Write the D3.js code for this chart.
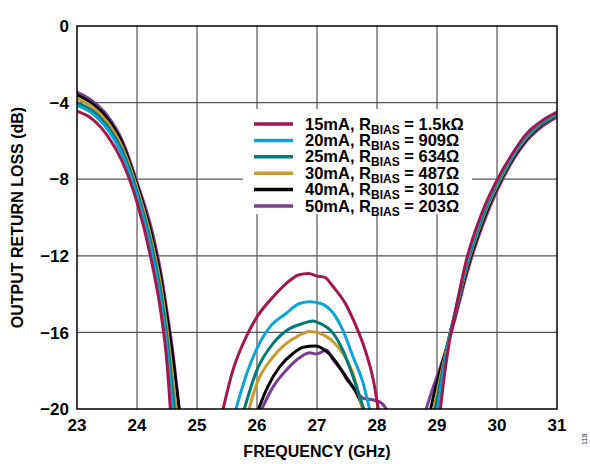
<!DOCTYPE html>
<html lang="en">
<head>
<meta charset="UTF-8">
<title>Output Return Loss</title>
<script src="https://d3js.org/d3.v7.min.js"></script>
<style>
  body { margin: 0; background: #fff; }
  text { font-family: "Liberation Sans", Arial, sans-serif; font-weight: bold; }
</style>
</head>
<body>
<div id="chart"></div>
<script>
// frequency (GHz), return loss (dB); null splits segments that dip below -20 dB
const ma15 = [[23,-4.45],[23.25,-4.85],[23.5,-5.7],[23.75,-7.05],[24,-9.2],[24.25,-12.4],[24.4,-15],[24.5,-17.6],[24.56,-20.2], null,
  [25.42,-20.2],[25.6,-17.96],[25.82,-16.23],[26,-15.19],[26.27,-14.14],[26.49,-13.44],[26.69,-13],[26.86,-12.92],[27,-13.06],[27.13,-13.13],[27.27,-13.62],[27.47,-14.48],[27.63,-15.52],[27.8,-16.9],[27.94,-18.5],[28.03,-20.2], null,
  [29.05,-20.2],[29.1,-18.8],[29.2,-16.6],[29.3,-15],[29.5,-12.1],[29.75,-9.75],[30,-8.05],[30.25,-6.7],[30.5,-5.6],[30.75,-4.95],[31,-4.5]];
const ma20 = [[23,-4.15],[23.25,-4.55],[23.5,-5.35],[23.75,-6.7],[24,-8.85],[24.25,-11.9],[24.4,-14.4],[24.5,-16.8],[24.6,-20.2], null,
  [25.63,-20.2],[25.83,-18.14],[26,-16.83],[26.24,-15.62],[26.49,-15],[26.6,-14.7],[26.72,-14.48],[26.88,-14.4],[27.05,-14.48],[27.27,-15],[27.43,-15.88],[27.6,-17.27],[27.77,-18.66],[27.89,-20.2], null,
  [29,-20.2],[29.1,-18.2],[29.2,-16.4],[29.3,-14.95],[29.5,-12.3],[29.75,-9.9],[30,-8.15],[30.25,-6.8],[30.5,-5.7],[30.75,-5.02],[31,-4.57]];
const ma25 = [[23,-4],[23.25,-4.4],[23.5,-5.2],[23.75,-6.5],[24,-8.65],[24.25,-11.6],[24.4,-14],[24.5,-16.3],[24.63,-20.2], null,
  [25.77,-20.2],[26,-17.96],[26.27,-16.57],[26.55,-15.79],[26.75,-15.55],[26.93,-15.4],[27.05,-15.53],[27.27,-16.05],[27.43,-16.92],[27.6,-18.31],[27.8,-20.2], null,
  [28.96,-20.2],[29.1,-17.9],[29.2,-16.3],[29.3,-15],[29.5,-12.45],[29.75,-10.05],[30,-8.25],[30.25,-6.85],[30.5,-5.75],[30.75,-5.07],[31,-4.62]];
const ma30 = [[23,-3.8],[23.25,-4.2],[23.5,-5],[23.75,-6.3],[24,-8.45],[24.25,-11.3],[24.4,-13.6],[24.5,-15.8],[24.66,-20.2], null,
  [25.85,-20.2],[26,-18.66],[26.27,-17.27],[26.49,-16.57],[26.66,-16.23],[26.88,-15.95],[27.05,-16.05],[27.27,-16.49],[27.43,-17.1],[27.6,-18.14],[27.77,-20.2], null,
  [28.93,-20.2],[29.1,-17.7],[29.2,-16.3],[29.3,-15.05],[29.5,-12.55],[29.75,-10.15],[30,-8.35],[30.25,-6.9],[30.5,-5.8],[30.75,-5.1],[31,-4.65]];
const ma40 = [[23,-3.6],[23.25,-4.05],[23.5,-4.8],[23.75,-6.1],[24,-8.3],[24.25,-11],[24.4,-13.2],[24.5,-15.2],[24.6,-17.4],[24.71,-20.2], null,
  [26,-20.2],[26.18,-18.83],[26.38,-17.79],[26.6,-17.1],[26.77,-16.78],[26.97,-16.71],[27.16,-17],[27.33,-17.6],[27.49,-18.4],[27.66,-19.18],[27.8,-20.2], null,
  [28.88,-20.2],[29,-18.6],[29.1,-17.5],[29.2,-16.3],[29.3,-15.1],[29.5,-12.7],[29.75,-10.3],[30,-8.45],[30.25,-6.98],[30.5,-5.87],[30.75,-5.15],[31,-4.68]];
const ma50 = [[23,-3.45],[23.25,-3.9],[23.5,-4.65],[23.75,-5.95],[24,-8.15],[24.25,-10.7],[24.4,-12.9],[24.5,-14.9],[24.6,-17.1],[24.71,-20.2], null,
  [26.05,-20.2],[26.27,-18.83],[26.49,-17.96],[26.66,-17.44],[26.88,-17.06],[26.99,-17.13],[27.16,-16.92],[27.27,-17.44],[27.43,-18.05],[27.6,-18.83],[27.77,-19.44],[27.94,-19.53],[28.08,-19.7],[28.19,-20.2], null,
  [28.8,-20.2],[28.9,-19.2],[29,-18.3],[29.1,-17.4],[29.2,-16.4],[29.3,-15.3],[29.5,-12.9],[29.75,-10.5],[30,-8.6],[30.25,-7.1],[30.5,-5.98],[30.75,-5.25],[31,-4.75]];

const currents = ['15mA', '20mA', '25mA', '30mA', '40mA', '50mA'];
const rbias = ['1.5kΩ', '909Ω', '634Ω', '487Ω', '301Ω', '203Ω'];
const colors = ['#A3184C', '#0BA3D9', '#007A75', '#C99A2E', '#000000', '#7A3C94'];
const seriesData = [ma15, ma20, ma25, ma30, ma40, ma50];

const xTicks = [23, 24, 25, 26, 27, 28, 29, 30, 31];
const yTicks = [0, -4, -8, -12, -16, -20];

const width = 590, height = 464;
const margin = { left: 77, right: 33, top: 26, bottom: 55 };
const pw = width - margin.left - margin.right;
const ph = height - margin.top - margin.bottom;

const x = d3.scaleLinear().domain([23, 31]).range([0, pw]);
const y = d3.scaleLinear().domain([-20, 0]).range([ph, 0]);

const svg = d3.select('#chart').append('svg')
  .attr('width', width).attr('height', height);

svg.append('defs').append('clipPath').attr('id', 'plot')
  .append('rect').attr('width', pw).attr('height', ph);

const g = svg.append('g').attr('transform', `translate(${margin.left},${margin.top})`);

// grid
g.append('g').selectAll('line').data(xTicks.slice(1, -1)).enter().append('line')
  .attr('x1', d => x(d)).attr('x2', d => x(d)).attr('y1', 0).attr('y2', ph)
  .attr('stroke', '#555').attr('stroke-width', 1.2);
g.append('g').selectAll('line').data(yTicks.slice(1, -1)).enter().append('line')
  .attr('y1', d => y(d)).attr('y2', d => y(d)).attr('x1', 0).attr('x2', pw)
  .attr('stroke', '#555').attr('stroke-width', 1.2);

// curves
const line = d3.line()
  .defined(d => d !== null)
  .x(d => x(d[0])).y(d => y(d[1]))
  .curve(d3.curveMonotoneX);

const order = [5, 4, 3, 2, 1, 0];
g.append('g').attr('clip-path', 'url(#plot)')
  .selectAll('path').data(order).enter().append('path')
  .attr('d', i => line(seriesData[i]))
  .attr('fill', 'none')
  .attr('stroke', i => colors[i])
  .attr('stroke-width', 3)
  .attr('stroke-linejoin', 'round');

// legend
const leg = g.append('g').attr('transform', `translate(${243 - margin.left},${109 - margin.top})`);
leg.append('rect').attr('width', 229).attr('height', 105).attr('fill', '#fff');
const rows = leg.selectAll('g.row').data(currents).enter().append('g')
  .attr('transform', (d, i) => `translate(0,${15 + i * 16.4})`);
rows.append('line').attr('x1', 11).attr('x2', 50).attr('y1', 0).attr('y2', 0)
  .attr('stroke', (d, i) => colors[i]).attr('stroke-width', 3.5);
const lt = rows.append('text').attr('x', 62).attr('y', 5.5).attr('font-size', 16.5).attr('fill', '#000');
lt.append('tspan').text(d => `${d}, R`);
lt.append('tspan').attr('font-size', 12).attr('dy', 4).text('BIAS');
lt.append('tspan').attr('dy', -4).text((d, i) => ` = ${rbias[i]}`);

// frame
g.append('rect').attr('width', pw).attr('height', ph)
  .attr('fill', 'none').attr('stroke', '#000').attr('stroke-width', 1.5);

// tick labels
g.append('g').selectAll('text').data(xTicks).enter().append('text')
  .attr('x', d => x(d)).attr('y', ph + 22)
  .attr('text-anchor', 'middle').attr('font-size', 17)
  .text(d => d);
g.append('g').selectAll('text').data(yTicks).enter().append('text')
  .attr('x', -8).attr('y', d => y(d)).attr('dy', '0.36em')
  .attr('text-anchor', 'end').attr('font-size', 17)
  .text(d => d < 0 ? '\u2212' + Math.abs(d) : d);

// axis titles
svg.append('text').attr('x', margin.left + pw / 2).attr('y', 457)
  .attr('text-anchor', 'middle').attr('font-size', 16)
  .text('FREQUENCY (GHz)');
svg.append('text').attr('transform', `translate(23,${margin.top + ph / 2}) rotate(-90)`)
  .attr('text-anchor', 'middle').attr('font-size', 16)
  .text('OUTPUT RETURN LOSS (dB)');

svg.append('text').attr('transform', 'translate(587,445) rotate(-90)')
  .attr('font-size', 7).attr('font-weight', 'normal').attr('fill', '#666')
  .text('119');
</script>
</body>
</html>
